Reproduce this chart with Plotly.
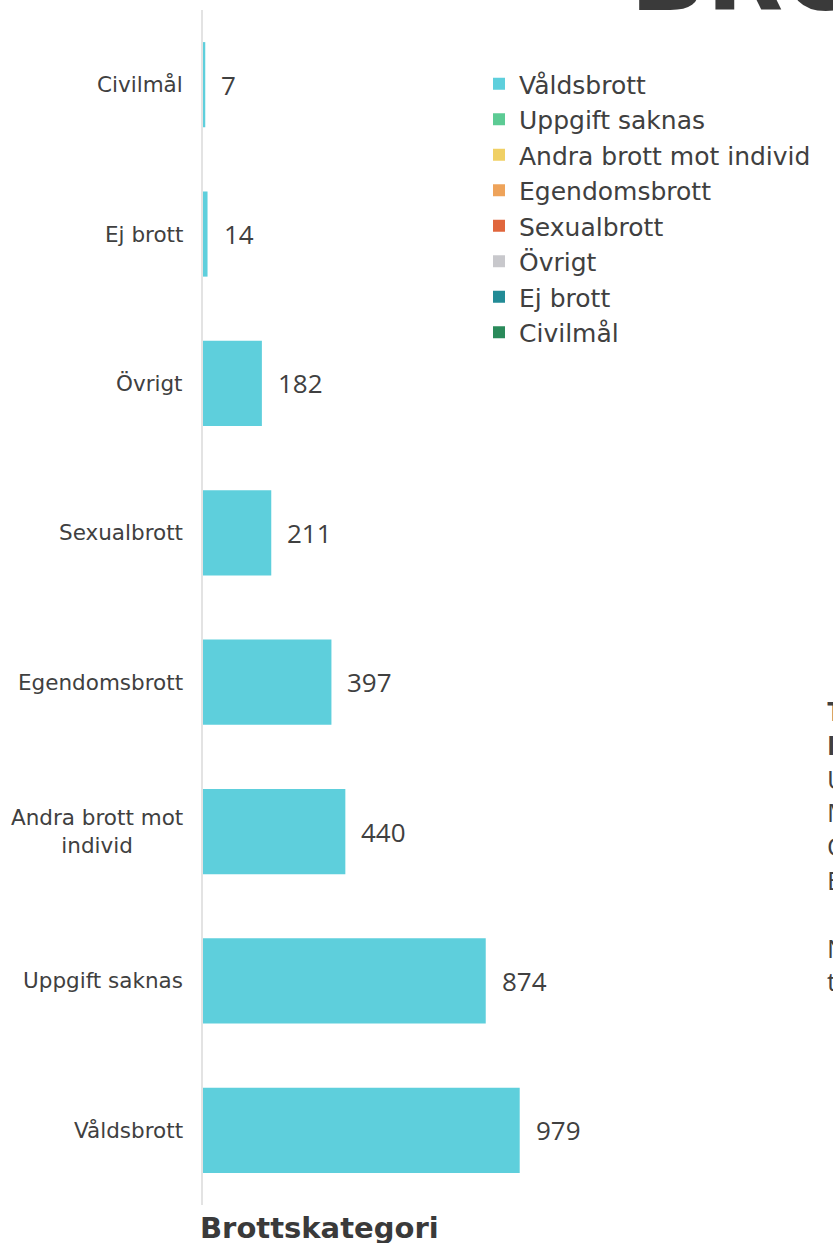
import plotly.graph_objects as go

categories = ["Våldsbrott", "Uppgift saknas", "Andra brott mot individ", "Egendomsbrott",
              "Sexualbrott", "Övrigt", "Ej brott", "Civilmål"]
tick_labels = ["Våldsbrott", "Uppgift saknas", "Andra brott mot<br>individ", "Egendomsbrott",
               "Sexualbrott", "Övrigt", "Ej brott", "Civilmål"]
values = [979, 874, 440, 397, 211, 182, 14, 7]
legend_names = ["Våldsbrott", "Uppgift saknas", "Andra brott mot individ", "Egendomsbrott",
                "Sexualbrott", "Övrigt", "Ej brott", "Civilmål"]
legend_colors = ["#5ecfdc", "#5ccb94", "#f0d064", "#eea35a", "#e0663c", "#c8c8cc", "#228b96", "#2a8a5a"]

TEXT = "#404040"
OFF = 0  # body margin removed via post_script
W, H = 833, 1243
ML, MR, MT, MB = 203, 0, 10, 38
PW, PH = W - ML - MR, H - MT - MB


def px(X):  # page pixel -> paper x
    return (X - OFF - ML) / PW


def py(Y):  # page pixel -> paper y
    return (H - MB - (Y - OFF)) / PH


fig = go.Figure()
fig.add_trace(go.Bar(
    y=categories, x=values, orientation="h", name=legend_names[0],
    marker=dict(color=legend_colors[0], line=dict(width=0)),
    width=0.57, showlegend=True,
))
for name, col in zip(legend_names[1:], legend_colors[1:]):
    fig.add_trace(go.Bar(y=[categories[0]], x=[0], orientation="h", name=name,
                         marker=dict(color=col, line=dict(width=0)), width=0.57,
                         hoverinfo="skip"))

annotations = []
for c, v in zip(categories, values):
    annotations.append(dict(x=v, y=c, xref="x", yref="y", text=str(v), showarrow=False,
                            xanchor="left", xshift=14,
                            font=dict(family="Open Sans", size=26, color=TEXT)))
for c, t in zip(categories, tick_labels):
    annotations.append(dict(x=0, y=c, xref="x", yref="y", text=t, showarrow=False,
                            xanchor="right", align="center", xshift=-18,
                            font=dict(family="DejaVu Sans", size=21.5, color=TEXT)))

annotations.append(dict(x=px(198), y=py(1228), xref="paper", yref="paper",
                        text="<b>Brottskategori</b>", showarrow=False,
                        xanchor="left", yanchor="middle",
                        font=dict(family="DejaVu Sans", size=29, color="#3a3a3a")))
annotations.append(dict(x=px(628), y=py(-25), xref="paper", yref="paper",
                        text="<b>BROTT</b>", showarrow=False,
                        xanchor="left", yanchor="middle",
                        font=dict(family="DejaVu Sans", size=100, color="#3a3a3a")))
side_text = ("<b>Totalt</b><br><b>Inkomna ärenden</b><br>Under perioden<br>Mellan åren<br>"
             "Och fördelat<br>Efter kategori<br> <br>Notera att<br>tabellen")
annotations.append(dict(x=px(825), y=py(691), xref="paper", yref="paper",
                        text=side_text, showarrow=False, align="left",
                        xanchor="left", yanchor="top",
                        font=dict(family="Open Sans", size=26, color=TEXT)))

fig.update_layout(
    width=W, height=H,
    margin=dict(l=ML, r=MR, t=MT, b=MB),
    paper_bgcolor="white", plot_bgcolor="white",
    barmode="overlay",
    showlegend=True,
    legend=dict(x=px(479), y=py(61), xanchor="left", yanchor="top",
                font=dict(family="DejaVu Sans", size=25, color=TEXT),
                bgcolor="rgba(0,0,0,0)", traceorder="normal", itemclick=False),
    xaxis=dict(range=[0, PW / 0.3235], visible=False, fixedrange=True),
    yaxis=dict(categoryorder="array", categoryarray=categories,
               range=[-0.5, 7.5], showticklabels=False, ticks="",
               showgrid=False, zeroline=False, showline=True,
               linecolor="#e3e3e3", linewidth=2),
    annotations=annotations,
)
fig.write_html("out.html", config={"displayModeBar": False},
               post_script="document.body.style.margin='0';document.body.style.overflow='hidden';")
